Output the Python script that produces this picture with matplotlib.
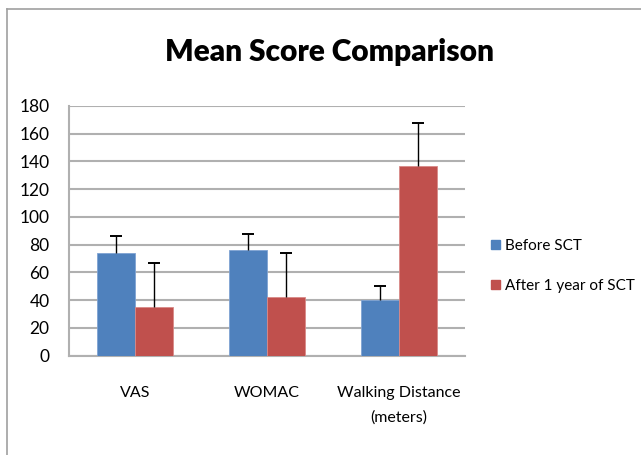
import matplotlib
matplotlib.use("Agg")
import matplotlib.pyplot as plt
import numpy as np
from matplotlib.lines import Line2D

categories = ["VAS", "WOMAC", "Walking Distance\n(meters)"]
series_names = ["Before SCT", "After 1 year of SCT"]
before = [74, 76, 40]
before_err = [12, 12, 10.5]
after = [35, 42, 137]
after_err = [32, 32, 31]
yticks = [0, 20, 40, 60, 80, 100, 120, 140, 160, 180]

plt.rcParams['font.family'] = ['Lato', 'DejaVu Sans']

fig = plt.figure(figsize=(6.41, 4.55), dpi=100)
ax = fig.add_axes([69/641, 1-355.7/455, (465-69)/641, (355.7-106)/455])

x = np.arange(len(categories))
w = 1/3.5
blue = "#4F81BD"
red = "#C0504D"
ax.bar(x - w/2, before, w, color=blue, edgecolor="#7FA3D3", linewidth=0.6, zorder=3, label=series_names[0])
ax.bar(x + w/2, after, w, color=red, edgecolor="#D98A88", linewidth=0.6, zorder=3, label=series_names[1])
for xs, vals, errs in [(x - w/2, before, before_err), (x + w/2, after, after_err)]:
    vals = np.array(vals)
    errs = np.array(errs)
    ax.errorbar(xs, vals, yerr=[np.zeros(3), errs], fmt="none", ecolor="black",
                elinewidth=1, capsize=0, zorder=4)
    ax.plot(xs, vals + errs, linestyle="none", marker="_", markersize=9,
            markeredgewidth=1.4, color="black", zorder=4)

ax.set_xlim(-0.5, 2.5)
ax.set_ylim(0, 180)
ax.set_yticks(yticks)
ax.set_yticklabels([str(t) for t in yticks], fontsize=12.5)
ax.set_xticks(x)
ax.set_xticklabels(categories, fontsize=11.5, linespacing=1.9)
ax.tick_params(axis="x", length=0, pad=22)
ax.tick_params(axis="y", length=0, pad=14)
ax.yaxis.grid(True, color="#B0B0B0", linewidth=1.5, zorder=0)
ax.set_axisbelow(True)
for s in ["top", "right"]:
    ax.spines[s].set_visible(False)
ax.spines["left"].set_color("#B0B0B0")
ax.spines["left"].set_linewidth(1.5)
ax.spines["bottom"].set_color("#B0B0B0")
ax.spines["bottom"].set_linewidth(1.5)

fig.text(0.514, 1-52/455, "Mean Score Comparison", ha="center", va="center",
         fontsize=21.5, fontweight="heavy")

handles = [plt.Rectangle((0, 0), 1, 1, color=blue), plt.Rectangle((0, 0), 1, 1, color=red)]
fig.legend(handles, series_names, loc="center left", bbox_to_anchor=(491/641, 1-266/455),
           frameon=False, fontsize=11, handlelength=0.6, handleheight=0.6,
           handletextpad=0.3, labelspacing=1.7, borderpad=0, borderaxespad=0)

# chart border (top and left)
fig.add_artist(Line2D([7/641, 7/641], [0, 1-9/455], transform=fig.transFigure, color="#A0A0A0", linewidth=1.2))
fig.add_artist(Line2D([7/641, 1], [1-9/455, 1-9/455], transform=fig.transFigure, color="#A0A0A0", linewidth=1.2))

fig.savefig("out.png", dpi=100)
